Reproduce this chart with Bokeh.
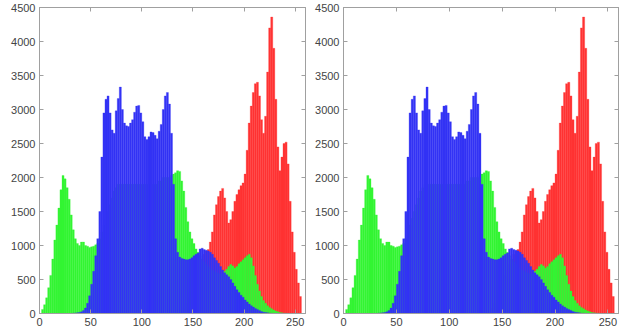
from bokeh.plotting import figure
from bokeh.layouts import row
from bokeh.models import FixedTicker, LinearAxis, CustomJSTickFormatter, Range1d
from bokeh.embed import file_html
from bokeh.resources import INLINE

# bin left edges (bins of width 2 over 0..255)
bins = list(range(0, 256, 2))

green = [0, 60, 130, 230, 380, 560, 800, 1080, 1300, 1550, 1820, 2030, 1980, 1850, 1680, 1450,
         1230, 1100, 1030, 1000, 1050, 1050, 1000, 990, 970, 980, 990, 1010, 1030, 1100, 1200, 1300,
         1400, 1500, 1600, 1700, 1800, 1850, 1900, 1900, 1900, 1900, 1900, 1900, 1900, 1900, 1900, 1900,
         1900, 1900, 1900, 1900, 1900, 1900, 1900, 1900, 1900, 1900, 1950, 1950, 2000, 2000, 2000, 2000,
         2030, 2050, 2070, 2100, 2090, 1950, 1800, 1560, 1350, 1200, 1100, 1030, 950, 900, 850, 800,
         760, 720, 690, 660, 640, 620, 600, 590, 580, 590, 620, 650, 690, 720, 700, 670,
         690, 730, 760, 790, 820, 850, 870, 820, 700, 560, 430, 330, 250, 190, 150, 115,
         90, 70, 50, 35, 25, 15, 10, 5, 3, 0, 0, 0, 0, 0, 0, 0]

blue = [0, 0, 0, 0, 0, 0, 0, 0, 0, 0, 0, 0, 0, 0, 0, 0,
        5, 8, 10, 15, 25, 45, 80, 150, 260, 430, 620, 850, 1100, 1500, 2300, 2950,
        3150, 3200, 2950, 2700, 2650, 2980, 3160, 3330, 3000, 2800, 2760, 2750, 2800, 2850, 2960, 3050,
        3060, 2950, 2820, 2600, 2560, 2600, 2670, 2660, 2620, 2570, 2680, 2780, 3000, 3200, 3250, 3080,
        2650, 1900, 1100, 900, 830, 810, 800, 790, 790, 800, 820, 850, 870, 890, 950, 960,
        940, 930, 920, 900, 870, 820, 780, 740, 690, 640, 600, 570, 540, 500, 450, 400,
        350, 310, 270, 240, 200, 170, 140, 115, 95, 75, 60, 45, 30, 20, 15, 10,
        5, 3, 0, 0, 0, 0, 0, 0, 0, 0, 0, 0, 0, 0, 0, 0]

red = [0, 0, 0, 0, 0, 0, 0, 0, 0, 0, 0, 0, 0, 0, 0, 0,
       0, 0, 0, 0, 0, 0, 0, 0, 0, 0, 0, 0, 0, 0, 0, 0,
       0, 0, 0, 0, 0, 0, 0, 0, 0, 0, 0, 0, 0, 0, 0, 0,
       0, 0, 0, 0, 0, 0, 0, 0, 0, 0, 0, 0, 0, 0, 0, 0,
       0, 0, 0, 0, 0, 0, 80, 150, 230, 320, 400, 480, 560, 640, 720, 800,
       870, 920, 940, 1050, 1200, 1450, 1600, 1720, 1800, 1840, 1700, 1500, 1330, 1380, 1500, 1650,
       1750, 1820, 1880, 1920, 2050, 2400, 2800, 3050, 3250, 3380, 3400, 3200, 2850, 2650, 2900, 3550,
       4200, 4360, 3900, 3150, 2450, 2100, 2300, 2500, 2520, 2200, 1650, 1200, 900, 650, 450, 250]

x_ticks = [0, 50, 100, 150, 200, 250]
y_ticks = [0, 500, 1000, 1500, 2000, 2500, 3000, 3500, 4000, 4500]

RED = "#ff3333"
GREEN = "#33f533"
BLUE = "#3333f5"
AXIS = "#a0a0a0"
FONT = "Liberation Sans"


def style_axis(ax, labels=True):
    ax.axis_line_color = AXIS
    ax.major_tick_line_color = AXIS
    ax.major_tick_in = 4
    ax.major_tick_out = 0
    ax.minor_tick_line_color = None
    ax.major_label_text_font = FONT
    ax.major_label_text_font_size = "11px"
    ax.major_label_text_color = "#444444"
    ax.major_label_standoff = 4
    if not labels:
        ax.formatter = CustomJSTickFormatter(code="return ''")
        ax.major_label_standoff = 0


def make_panel(width, left, right):
    p = figure(width=width, height=333, output_backend="svg", toolbar_location=None,
               x_range=Range1d(0, 260), y_range=Range1d(0, 4500),
               min_border_left=left, min_border_right=right,
               min_border_top=7, min_border_bottom=20)
    centers = [b + 1 for b in bins]
    p.vbar(x=centers, top=red, width=2, bottom=0, fill_color=RED, line_color=RED, line_width=0.3)
    p.vbar(x=centers, top=green, width=2, bottom=0, fill_color=GREEN, line_color=GREEN, line_width=0.3)
    p.vbar(x=centers, top=blue, width=2, bottom=0, fill_color=BLUE, line_color=BLUE, line_width=0.3)
    p.xaxis.ticker = FixedTicker(ticks=x_ticks)
    p.yaxis.ticker = FixedTicker(ticks=y_ticks)
    style_axis(p.xaxis[0])
    style_axis(p.yaxis[0])
    top_ax = LinearAxis(ticker=FixedTicker(ticks=x_ticks))
    right_ax = LinearAxis(ticker=FixedTicker(ticks=y_ticks))
    style_axis(top_ax, labels=False)
    style_axis(right_ax, labels=False)
    p.add_layout(top_ax, "above")
    p.add_layout(right_ax, "right")
    p.xgrid.grid_line_color = None
    p.ygrid.grid_line_color = None
    p.outline_line_color = AXIS
    p.background_fill_color = "white"
    p.border_fill_color = "white"
    return p


p1 = make_panel(308, 39, 3)
p2 = make_panel(312, 35, 2)
layout = row(p1, p2, spacing=0)

open("out.html", "w").write(file_html(layout, INLINE))
